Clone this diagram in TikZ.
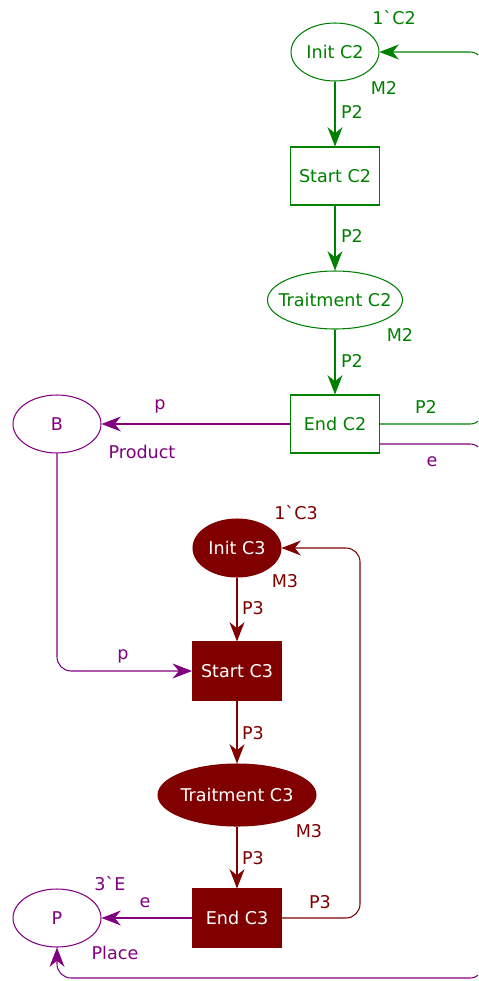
\documentclass[tikz,border=0pt]{standalone}
\usepackage{fontspec}
\setmainfont{DejaVu Sans}[Ligatures=TeXOff]
\usetikzlibrary{shapes.geometric,arrows.meta}
\definecolor{cpngreen}{RGB}{0,128,0}
\definecolor{cpnred}{RGB}{128,0,0}
\definecolor{cpnpurple}{RGB}{128,0,128}
\newcommand{\ptext}[1]{\makebox[0pt]{#1}}
\tikzset{
  place/.style={ellipse,draw,line width=0.6pt,inner sep=0pt,minimum width=1.76cm,minimum height=1.16cm},
  trans/.style={rectangle,draw,line width=0.6pt,inner sep=0pt,minimum width=1.78cm,minimum height=1.16cm},
  arc/.style={line width=0.6pt,-{Stealth[length=11pt,width=8.5pt,inset=3.5pt]}},
  lbl/.style={inner sep=0pt}
}
\begin{document}
\begin{tikzpicture}[x=0.02cm,y=-0.02cm,font=\fontsize{10}{12}\selectfont]
\useasboundingbox (0,0) rectangle (478,981);
\clip (0,0) rectangle (478,981);

% machine C2
\node[place,cpngreen] (initC2) at (335,52) {\ptext{Init C2}};
\node[trans,cpngreen] (startC2) at (335,176) {Start C2};
\node[place,cpngreen,minimum width=2.7cm] (traitC2) at (335,300) {\ptext{Traitment C2}};
\node[trans,cpngreen] (endC2) at (335,424) {End C2};

% machine C3
\node[place,cpnred,fill,text=white] (initC3) at (237,548) {\ptext{Init C3}};
\node[trans,cpnred,fill,text=white] (startC3) at (237,671) {Start C3};
\node[place,cpnred,fill,text=white,minimum width=3.16cm,minimum height=1.24cm] (traitC3) at (237,795) {\ptext{Traitment C3}};
\node[trans,cpnred,fill,text=white] (endC3) at (237,918) {End C3};

% buffers
\node[place,cpnpurple] (B) at (57,424) {\ptext{B}};
\node[place,cpnpurple] (P) at (57,918) {\ptext{P}};

% inscriptions
\node[lbl,cpngreen] (mkInitC2) at (394,18) {1`C2};
\node[lbl,cpngreen] (tyInitC2) at (384,88) {M2};
\node[lbl,cpngreen] (inStartC2) at (352,112) {P2};
\node[lbl,cpngreen] (outStartC2) at (352,236) {P2};
\node[lbl,cpngreen] (tyTraitC2) at (400,335) {M2};
\node[lbl,cpngreen] (inEndC2) at (352,361) {P2};
\node[lbl,cpngreen] (backC2) at (426,407) {P2};
\node[lbl,cpnpurple] (toB) at (160,406) {p};
\node[lbl,cpnpurple] (tyB) at (142,452) {Product};
\node[lbl,cpnpurple] (eC2) at (432,462) {e};

\node[lbl,cpnred] (mkInitC3) at (296,513) {1`C3};
\node[lbl,cpnred] (tyInitC3) at (285,581) {M3};
\node[lbl,cpnred] (inStartC3) at (253,608) {P3};
\node[lbl,cpnpurple] (fromB) at (123,656) {p};
\node[lbl,cpnred] (outStartC3) at (253,733) {P3};
\node[lbl,cpnred] (tyTraitC3) at (309,831) {M3};
\node[lbl,cpnred] (inEndC3) at (253,858) {P3};
\node[lbl,cpnred] (backC3) at (320,902) {P3};
\node[lbl,cpnpurple] (mkP) at (110,884) {3`E};
\node[lbl,cpnpurple] (toP) at (145,903) {e};
\node[lbl,cpnpurple] (tyP) at (115,953) {Place};

% arcs C2
\draw[arc,cpngreen] (initC2) -- (startC2);
\draw[arc,cpngreen] (startC2) -- (traitC2);
\draw[arc,cpngreen] (traitC2) -- (endC2);
\draw[arc,cpngreen,rounded corners=8pt] (endC2.east) -- (484,424) -- (484,52) -- (initC2.east);
\draw[arc,cpnpurple] (endC2) -- (B);
\draw[arc,cpnpurple,rounded corners=8pt] ([yshift=-0.4cm]endC2.east) -- (484,444) -- (484,978) -- (57,978) -- (P.south);

% arcs C3
\draw[arc,cpnpurple,rounded corners=8pt] (B.south) -- (57,671) -- (startC3.west);
\draw[arc,cpnred] (initC3) -- (startC3);
\draw[arc,cpnred] (startC3) -- (traitC3);
\draw[arc,cpnred] (traitC3) -- (endC3);
\draw[arc,cpnred,rounded corners=8pt] (endC3.east) -- (360,918) -- (360,548) -- (initC3.east);
\draw[arc,cpnpurple] (endC3) -- (P);
\end{tikzpicture}
\end{document}
